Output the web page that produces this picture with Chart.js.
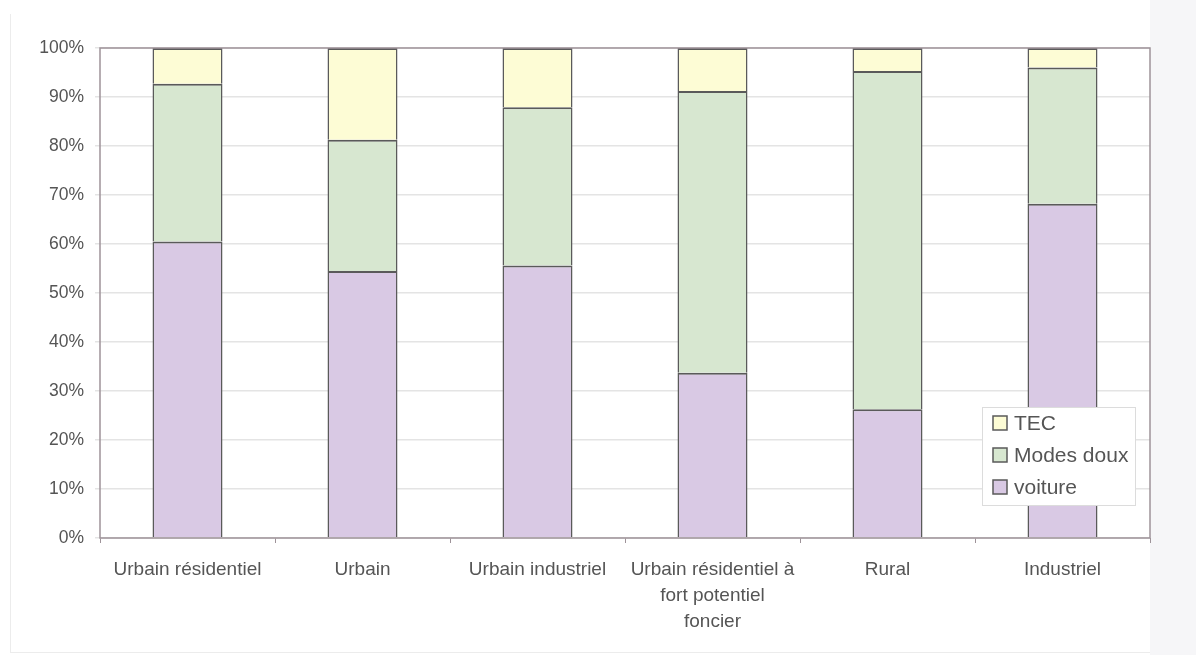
<!DOCTYPE html>
<html>
<head>
<meta charset="utf-8">
<script src="https://cdn.jsdelivr.net/npm/chart.js@4/dist/chart.umd.min.js"></script>
<style>
  html, body { margin: 0; padding: 0; background: #ffffff; }
  #wrap { position: relative; width: 1196px; height: 655px; }
  canvas { display: block; }
</style>
</head>
<body>
<div id="wrap"><canvas id="c" width="1196" height="655"></canvas></div>
<script>
// Modal split by zone type (share of trips, %)
const categories = [
  'Urbain résidentiel',
  'Urbain',
  'Urbain industriel',
  ['Urbain résidentiel à', 'fort potentiel', 'foncier'],
  'Rural',
  'Industriel'
];
const voiture    = [60.5, 54.5, 55.6, 33.7, 26.3, 68.2];
const modesDoux  = [32.2, 26.8, 32.3, 57.5, 69.0, 27.8];
const tec        = [7.3, 18.7, 12.1, 8.8, 4.7, 4.0];
const yTicks     = [0, 10, 20, 30, 40, 50, 60, 70, 80, 90, 100];

const FONT = "'Liberation Sans', Arial, sans-serif";
const TEXT = '#555555';
const EDGE = '#5a5a5a';

// Page frame, plot border and the boxed legend inside the plot
const framePlugin = {
  id: 'frame',
  beforeDraw(chart) {
    const ctx = chart.ctx;
    ctx.save();
    ctx.fillStyle = '#f6f6f8';
    ctx.fillRect(1150, 0, 46, 655);
    ctx.strokeStyle = '#ececec';
    ctx.lineWidth = 1;
    ctx.beginPath();
    ctx.moveTo(10.5, 14); ctx.lineTo(10.5, 652);
    ctx.moveTo(10, 652.5); ctx.lineTo(1150, 652.5);
    ctx.stroke();
    ctx.restore();
  },
  afterDatasetsDraw(chart) {
    const ctx = chart.ctx;
    const a = chart.chartArea;
    ctx.save();
    ctx.strokeStyle = '#9e9399';
    ctx.lineWidth = 1.5;
    ctx.strokeRect(a.left, a.top, a.right - a.left, a.bottom - a.top);
    ctx.restore();
  },
  afterDraw(chart) {
    const ctx = chart.ctx;
    const a = chart.chartArea;
    const bw = 153, bh = 98;
    const bx = a.right - 15 - bw;
    const by = a.top + 359;
    ctx.save();
    ctx.fillStyle = '#ffffff';
    ctx.fillRect(bx, by, bw, bh);
    ctx.strokeStyle = '#dcdcdc';
    ctx.lineWidth = 1;
    ctx.strokeRect(bx + 0.5, by + 0.5, bw, bh);
    const items = chart.data.datasets.slice().reverse();
    ctx.font = '21px ' + FONT;
    ctx.textBaseline = 'middle';
    items.forEach((ds, i) => {
      const cy = by + 16 + i * 32;
      const sx = bx + 11;
      ctx.fillStyle = ds.backgroundColor;
      ctx.fillRect(sx, cy - 7, 14, 14);
      ctx.strokeStyle = EDGE;
      ctx.lineWidth = 1.5;
      ctx.strokeRect(sx, cy - 7, 14, 14);
      ctx.fillStyle = TEXT;
      ctx.fillText(ds.label, sx + 21, cy + 1);
    });
    ctx.restore();
  }
};

new Chart(document.getElementById('c'), {
  type: 'bar',
  data: {
    labels: categories,
    datasets: [
      { label: 'voiture',     data: voiture,   backgroundColor: '#d9c9e4' },
      { label: 'Modes doux',  data: modesDoux, backgroundColor: '#d7e7d0' },
      { label: 'TEC',         data: tec,       backgroundColor: '#fdfcd5' }
    ].map(d => Object.assign(d, {
      borderColor: EDGE,
      borderWidth: { left: 1.5, right: 1.5, top: 2, bottom: 0 },
      borderSkipped: false,
      categoryPercentage: 1.0,
      barPercentage: 0.4
    }))
  },
  options: {
    responsive: false,
    animation: false,
    devicePixelRatio: 1,
    layout: { padding: { left: 0, right: 46, top: 48, bottom: 0 } },
    plugins: {
      legend: { display: false },
      tooltip: { enabled: false }
    },
    scales: {
      x: {
        stacked: true,
        afterFit(axis) { axis.height = 117; },
        border: { display: false },
        grid: {
          offset: true,
          drawOnChartArea: false,
          drawTicks: true,
          tickLength: 5,
          color: '#9e9399'
        },
        ticks: {
          color: TEXT,
          padding: 14,
          maxRotation: 0,
          autoSkip: false,
          font: { family: FONT, size: 19, lineHeight: 1.36 }
        }
      },
      y: {
        stacked: true,
        min: 0,
        max: 100,
        afterFit(axis) { axis.width = 100; },
        afterBuildTicks(axis) { axis.ticks = yTicks.map(v => ({ value: v })); },
        border: { display: false },
        grid: {
          color: '#e4e4e4',
          lineWidth: 1.5,
          tickLength: 5
        },
        ticks: {
          color: TEXT,
          padding: 11,
          font: { family: FONT, size: 17.5 },
          callback: v => v + '%'
        }
      }
    }
  },
  plugins: [framePlugin]
});
</script>
</body>
</html>
